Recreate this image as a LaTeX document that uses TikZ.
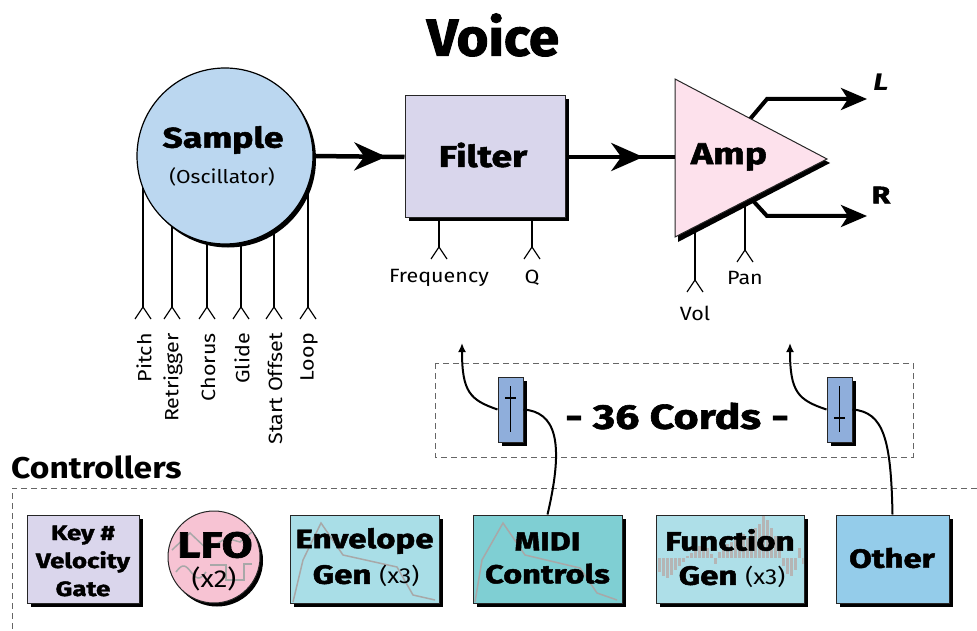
\documentclass[tikz,border=0pt]{standalone}
\usepackage{fontspec}
\setmainfont{Fira Sans}[FakeStretch=1.12]
\newfontfamily\hvfam{Fira Sans}[FakeStretch=1.25, BoldFeatures={FakeBold=1.8}]
\newfontfamily\ttlfam{Fira Sans}[FakeStretch=1.05, BoldFeatures={FakeBold=1.8}]
\newcommand\hv{\hvfam\bfseries}
\usetikzlibrary{arrows.meta,shadows,decorations.markings}
\definecolor{samplefill}{HTML}{BBD7F0}
\definecolor{filterfill}{HTML}{D9D6EC}
\definecolor{ampfill}{HTML}{FDE1EC}
\definecolor{keyfill}{HTML}{DAD6EC}
\definecolor{lfofill}{HTML}{F7C3D3}
\definecolor{envfill}{HTML}{A9DEE7}
\definecolor{midifill}{HTML}{7FCFD3}
\definecolor{funcfill}{HTML}{AEDFE8}
\definecolor{otherfill}{HTML}{94CCEA}
\definecolor{sliderfill}{HTML}{8FAEDB}
\definecolor{sketchgray}{HTML}{A8A8A8}
\newcommand\fsz[2]{\fontsize{#1}{#2}\selectfont}
% control input: stem from (x,ytop) down to the fork apex at yapex
\newcommand\jack[3]{%
  \draw[jackline] (#1,#2) -- (#1,#3);
  \draw[forkline] (#1-8,#3+12) -- (#1,#3) -- (#1+8,#3+12);}
\tikzset{
  shd/.style={drop shadow={shadow xshift=3.5pt,shadow yshift=-3.5pt,fill=black,opacity=1}},
  box/.style={draw=black!85, line width=1pt, shd, inner sep=0pt, align=center},
  sig/.style={line width=4.5pt},
  midarrow/.style={postaction={decorate,decoration={markings,
      mark=at position #1 with {\arrow{Stealth[length=32pt,width=28pt,inset=10pt]}}}}},
  outsig/.style={line width=4pt, -{Stealth[length=26pt,width=22pt,inset=7pt]}},
  jackline/.style={line width=2pt},
  forkline/.style={line width=1.2pt},
  cordline/.style={line width=2pt},
  dashbox/.style={draw=black!60, dash pattern=on 6pt off 4pt, line width=1pt},
  lbl/.style={font=\fsz{19.2}{22}},
  heavy/.style={font=\hv\fsz{#1}{#1}},
}
\begin{document}
\begin{tikzpicture}[x=1pt,y=-1pt]
\useasboundingbox (0,0) rectangle (977,631);

% title
\node[font=\ttlfam\bfseries\fsz{52}{52}] (title) at (493,35) {Voice};

% ---- Sample (oscillator) with its control inputs
\foreach \x/\t in {143/Pitch,172/Retrigger,207/Chorus,241/Glide,274/Start Offset,308/Loop}{
  \jack{\x}{170}{307}
  \node[lbl, rotate=90, anchor=east, inner sep=0pt] at (\x+1,333) {\t};
}
\fill (228,159.5) circle (88);
\node[circle, minimum size=176pt, inner sep=0pt, fill=samplefill, draw=black, line width=1.2pt] (sample) at (225,156) {};
\node[heavy=28.4] (sampletxt) at (223,140) {Sample};
\node[font=\fsz{18.8}{20}] (osc) at (222,177) {(Oscillator)};

% ---- Filter
\jack{439}{200}{247}
\jack{532}{200}{247}
\node[lbl] (freq) at (439,278) {Frequency};
\node[lbl] (qlbl) at (532,278) {Q};
\node[box, fill=filterfill, minimum width=160pt, minimum height=122pt] (filter) at (485,157) {};
\node[heavy=30] at (483,155) {Filter};

% ---- Amp with stereo outputs
\coordinate (ampW) at (675,157);
\jack{695}{215}{280}
\jack{745}{195}{250}
\node[lbl] (vol) at (695,313) {Vol};
\node[lbl] (pan) at (745,278) {Pan};
\coordinate (Lout) at (867,99);
\coordinate (Rout) at (867,216);
\draw[outsig] (745,125) -- (767,99) -- (Lout);
\draw[outsig] (745,192) -- (767,216) -- (Rout);
\fill (678,83) -- (830,163) -- (678,242) -- cycle;
\draw[fill=ampfill, line width=1pt, draw=black!85] (675,79) -- (827,159) -- (675,237) -- cycle;
\node[heavy=30] (amp) at (729,157) {Amp};
\node[font=\hv\fsz{24}{24}] (L) at (881,82) {\itshape L};
\node[font=\hv\fsz{24}{24}] (R) at (881,195) {R};

% main signal path
\draw[sig, midarrow=0.8] (sample.east) -- (filter.west);
\draw[sig, midarrow=0.71] (filter.east) -- (ampW);

% ---- Modulation cords
\draw[dashbox] (435,363) rectangle (913,457);
\node[heavy=34.4] (cords) at (677,416) {- 36 Cords -};
\node[box, fill=sliderfill, minimum width=25pt, minimum height=65pt] (sl1) at (510.5,409.5) {};
\node[box, fill=sliderfill, minimum width=25pt, minimum height=65pt] (sl2) at (839.5,409.5) {};
\draw[line width=1pt] (510.5,386) -- (510.5,432);
\draw[line width=2pt] (505,398) -- (516,398);
\draw[line width=1pt] (839.5,386) -- (839.5,432);
\draw[line width=2pt] (834,418) -- (845,418);
\coordinate (t1) at (462,343);
\coordinate (t2) at (790,343);

% ---- Controllers
\node[font=\bfseries\fsz{30}{30}, anchor=west, inner sep=0pt] (ctl) at (11,467) {Controllers};
\draw[dashbox] (977,488) -- (12,488) -- (12,631);

\node[box, fill=keyfill, minimum width=112pt, minimum height=88pt] (key) at (83,559) {};
\node[font=\hv\fsz{20.7}{28}, align=center] at (83,561) {Key \#\\Velocity\\Gate};

\fill (217,560.5) circle (46);
\node[circle, fill=lfofill, draw=black!85, line width=1pt, minimum size=92pt, inner sep=0pt] (lfo) at (214,557) {};
\draw[sketchgray, line width=1.5pt] (172,550) -- (190,533) -- (208,550) -- (226,538) -- (240,542) -- (252,532);
\draw[sketchgray, line width=1.5pt, domain=0:1, samples=30, smooth] plot ({176+30*\x}, {572-6*sin(360*\x)});
\draw[sketchgray, line width=1.5pt] (210,565) -- (226,565) -- (226,580) -- (244,580) -- (244,564) -- (252,564);
\node[heavy=36] at (215,545) {LFO};
\node[font=\fsz{24.5}{24}] at (214,579) {(x2)};

\node[box, fill=envfill, minimum width=149pt, minimum height=88pt] (env) at (364.5,559) {};
\draw[sketchgray, line width=1.5pt] (293,602) -- (303,560) -- (321,523) -- (343,555) -- (397,567) -- (413,595) -- (435,600);
\node[heavy=26.5] at (364.5,541) {Envelope};
\node at (366,576) {\hv\fsz{26.5}{26}Gen \normalfont\fsz{21.8}{22}(x3)};

\node[box, fill=midifill, minimum width=149pt, minimum height=88pt] (midi) at (547.5,559) {};
\draw[sketchgray, line width=1.5pt] (475,602) -- (482,560) -- (503,523) -- (525,555) -- (580,568) -- (597,593) -- (617,600);
\node[font=\hv\fsz{26}{33}, align=center] at (547.5,558) {MIDI\\Controls};

\node[box, fill=funcfill, minimum width=148pt, minimum height=88pt] (func) at (730,559) {};
\begin{scope}
\clip (656.5,515.5) rectangle (803.5,602.5);
\foreach \h [count=\i] in {-14,-18,-20,-17,-12,-8,-4,2,5,9,12,14,10,4,-6,6,10,14,16,18,22,24,20,26,30,34,42,38,30,22,12,-8,-16,-18,-12,10,-6}
  \fill[sketchgray!85] (654+\i*4,558) rectangle ++(3.4,-\h);
\end{scope}
\node[heavy=26.5] at (730,540) {Function};
\node at (732,577) {\hv\fsz{26.5}{26}Gen \normalfont\fsz{21.8}{22}(x3)};

\node[box, fill=otherfill, minimum width=113pt, minimum height=88pt] (other) at (892.5,559) {};
\node[heavy=26.3] at (892,558) {Other};

% cords from controller sources through the slider amounts to destinations
\draw[cordline] (midi.north) .. controls (565,440) and (555,412) .. (sl1.east);
\draw[cordline, -{Latex[length=9pt,width=8pt]}] (sl1.west) .. controls (470,400) and (462,392) .. (t1);
\draw[cordline] (other.north) .. controls (891,440) and (884,412) .. (sl2.east);
\draw[cordline, -{Latex[length=9pt,width=8pt]}] (sl2.west) .. controls (798,400) and (790,392) .. (t2);
\end{tikzpicture}
\end{document}
